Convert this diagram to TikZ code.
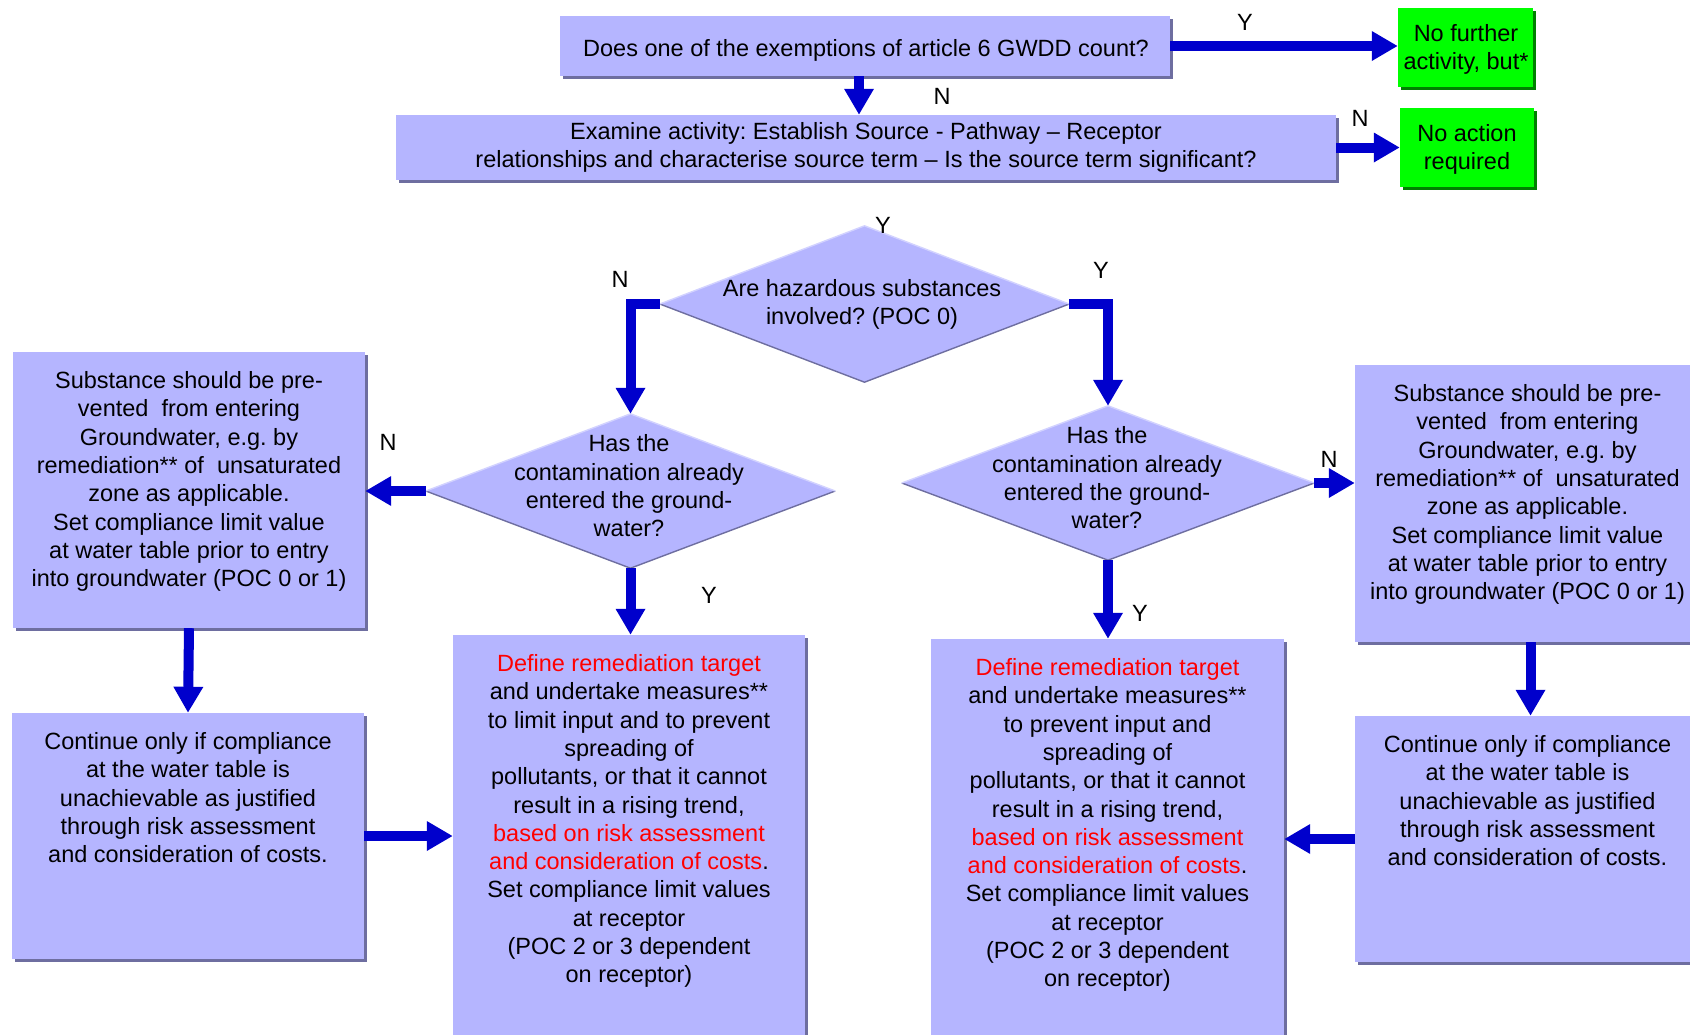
\documentclass[tikz,border=0pt]{standalone}
\usepackage{fontspec}
\setmainfont{Liberation Sans}
\usetikzlibrary{shapes.geometric,arrows.meta,shadows}
\definecolor{boxfill}{RGB}{181,181,255}
\definecolor{boxshadow}{RGB}{110,110,160}
\definecolor{boxlight}{RGB}{210,210,255}
\definecolor{grn}{RGB}{0,255,0}
\definecolor{grnshadow}{RGB}{0,128,0}
\definecolor{arrowblue}{RGB}{0,0,204}
\definecolor{redtxt}{RGB}{255,0,0}
\frenchspacing
\begin{document}
\begin{tikzpicture}[x=1pt,y=-1pt,
  txt/.style={font=\fontsize{23.5}{28.3}\selectfont, align=center, inner sep=0pt},
  box/.style={rectangle, fill=boxfill, inner sep=0pt,
    drop shadow={shadow xshift=2.5pt, shadow yshift=-2.5pt, fill=boxshadow, opacity=1}},
  gbox/.style={rectangle, fill=grn, inner sep=0pt,
    drop shadow={shadow xshift=3pt, shadow yshift=-3pt, fill=grnshadow, opacity=1}},
  dia/.style={diamond, fill=boxfill, inner sep=0pt},
  arr/.style={draw=arrowblue, line width=10pt, line join=miter,
    -{Triangle[length=26pt,width=28pt]}},
  lbl/.style={font=\fontsize{23.5}{28.3}\selectfont, inner sep=0pt},
  edgeshade/.style={draw=boxshadow, line width=1.4pt},
  edgelight/.style={draw=boxlight, line width=1.4pt},
]
\useasboundingbox (0,0) rectangle (1690,1034);
\clip (0,0) rectangle (1690,1034);

% top row
\node[box, minimum width=610pt, minimum height=60pt] (q1) at (865,46) {};
\node[txt] (q1t) at (866,50.5) {Does one of the exemptions of article 6 GWDD count?};
\node[gbox, minimum width=135pt, minimum height=79pt] (g1) at (1465.5,47.5) {};
\node[txt] (g1t) at (1466,49.5) {No further\\activity, but*};
\node[box, txt, minimum width=940pt, minimum height=65pt] (q2) at (866,147.5)
  {Examine activity: Establish Source - Pathway – Receptor\\relationships and characterise source term – Is the source term significant?};
\node[gbox, minimum width=134pt, minimum height=79pt] (g2) at (1467,147.5) {};
\node[txt] (g2t) at (1467,149.5) {No action\\required};

% diamonds
\node[dia, minimum width=409pt, minimum height=156pt] (d1) at (864.5,304) {};
\draw[edgeshade] (d1.west) -- (d1.south) -- (d1.east);
\draw[edgelight] (d1.west) -- (d1.north) -- (d1.east);
\node[txt] (d1t) at (862,304.5) {Are hazardous substances\\involved? (POC 0)};

\node[dia, minimum width=409pt, minimum height=154pt] (d2) at (630.5,491) {};
\draw[edgeshade] (d2.west) -- (d2.south) -- (d2.east);
\draw[edgelight] (d2.west) -- (d2.north) -- (d2.east);
\node[txt] (d2t) at (629,486) {Has the\\contamination already\\entered the ground-\\water?};

\node[dia, minimum width=412pt, minimum height=154pt] (d3) at (1108,483) {};
\draw[edgeshade] (d3.west) -- (d3.south) -- (d3.east);
\draw[edgelight] (d3.west) -- (d3.north) -- (d3.east);
\node[txt] (d3t) at (1107,478) {Has the\\contamination already\\entered the ground-\\water?};

% side and result boxes
\node[box, minimum width=352pt, minimum height=276pt] (L1) at (189,490) {};
\node[txt, anchor=north] (L1t) at ([yshift=-19.5pt]L1.north)
  {Substance should be pre-\\vented\ \ from entering\\Groundwater, e.g. by\\remediation** of\ \ unsaturated\\zone as applicable.\\Set compliance limit value\\at water table prior to entry\\into groundwater (POC 0 or 1)};

\node[box, minimum width=352pt, minimum height=246pt] (L2) at (188,836) {};
\node[txt, anchor=north] (L2t) at ([yshift=-19.5pt]L2.north)
  {Continue only if compliance\\at the water table is\\unachievable as justified\\through risk assessment\\and consideration of costs.};

\node[box, minimum width=352pt, minimum height=415pt] (M1) at (629,842.5) {};
\node[txt, anchor=north] (M1t) at ([yshift=-19.5pt]M1.north)
  {\textcolor{redtxt}{Define remediation target}\\and undertake measures**\\to limit input and to prevent\\spreading of\\pollutants, or that it cannot\\result in a rising trend,\\\textcolor{redtxt}{based on risk assessment}\\\textcolor{redtxt}{and consideration of costs}.\\Set compliance limit values\\at receptor\\(POC 2 or 3 dependent\\on receptor)};

\node[box, minimum width=353pt, minimum height=411pt] (M2) at (1107.5,844.5) {};
\node[txt, anchor=north] (M2t) at ([yshift=-19.5pt]M2.north)
  {\textcolor{redtxt}{Define remediation target}\\and undertake measures**\\to prevent input and\\spreading of\\pollutants, or that it cannot\\result in a rising trend,\\\textcolor{redtxt}{based on risk assessment}\\\textcolor{redtxt}{and consideration of costs}.\\Set compliance limit values\\at receptor\\(POC 2 or 3 dependent\\on receptor)};

\node[box, minimum width=345pt, minimum height=277pt] (R1) at (1527.5,503.5) {};
\node[txt, anchor=north] (R1t) at ([yshift=-19.5pt]R1.north)
  {Substance should be pre-\\vented\ \ from entering\\Groundwater, e.g. by\\remediation** of\ \ unsaturated\\zone as applicable.\\Set compliance limit value\\at water table prior to entry\\into groundwater (POC 0 or 1)};

\node[box, minimum width=345pt, minimum height=246pt] (R2) at (1527.5,839) {};
\node[txt, anchor=north] (R2t) at ([yshift=-19.5pt]R2.north)
  {Continue only if compliance\\at the water table is\\unachievable as justified\\through risk assessment\\and consideration of costs.};

% connectors
\draw[arr] (q1.east) -- (q1.east -| g1.west);
\draw[arr] ([xshift=-6pt]q1.south) -- ([xshift=-6pt]q1.south |- q2.north);
\draw[arr] (q2.east) -- (q2.east -| g2.west);
\draw[arr] (d1.west) -| (d2.north);
\draw[arr] (d1.east) -| (d3.north);
\draw[arr] (d2.west) -- (d2.west -| L1.east);
\draw[arr] (d3.east) -- (d3.east -| R1.west);
\draw[arr] (d2.south) -- (d2.south |- M1.north);
\draw[arr] (d3.south) -- (d3.south |- M2.north);
\draw[arr] (L1.south) -- (L2.north);
\draw[arr] ([xshift=3pt]R1.south) -- ([xshift=3pt]R1.south |- R2.north);
\draw[arr] (L2.east) -- (L2.east -| M1.west);
\draw[arr] (R2.west) -- (R2.west -| M2.east);

% labels
\node[lbl] (lY1) at (1245,22) {Y};
\node[lbl] (lN1) at (942,96) {N};
\node[lbl] (lN2) at (1360,118) {N};
\node[lbl] (lY2) at (883,225) {Y};
\node[lbl] (lN3) at (620,279) {N};
\node[lbl] (lY3) at (1101,270) {Y};
\node[lbl] (lN4) at (388,442) {N};
\node[lbl] (lN5) at (1329,459) {N};
\node[lbl] (lY4) at (709,595) {Y};
\node[lbl] (lY5) at (1140,613) {Y};
\end{tikzpicture}
\end{document}
